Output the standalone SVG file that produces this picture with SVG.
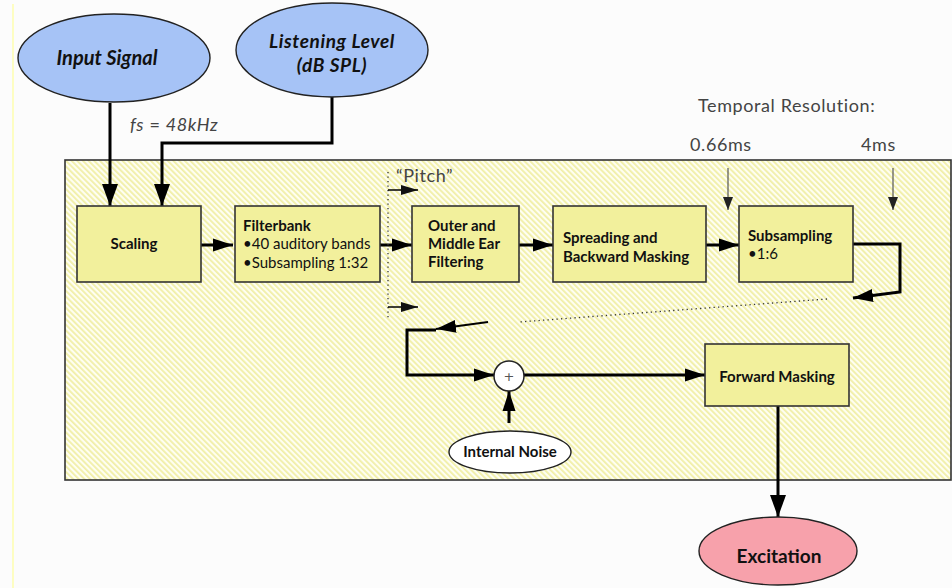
<svg xmlns="http://www.w3.org/2000/svg" width="952" height="588" viewBox="0 0 952 588">
<style>
.box{fill:#f2f09c;stroke:#333;stroke-width:1.6}
.ell{stroke:#222;stroke-width:1.4}
.lbl{font-family:Lato,"Open Sans","DejaVu Sans",sans-serif;font-size:15px;fill:#111}
.b{font-weight:bold}
.n{font-weight:normal}
.note{font-family:Lato,"Open Sans","DejaVu Sans",sans-serif;fill:#444;font-size:18px;letter-spacing:0.6px}
.thick{fill:none;stroke:#000;stroke-width:3}
.med{fill:none;stroke:#000;stroke-width:2}
.thin{fill:none;stroke:#555;stroke-width:1.2}
.dot{fill:none;stroke:#333;stroke-width:1.3;stroke-dasharray:1.3 3.2}
</style>
<defs>
<pattern id="hatch" patternUnits="userSpaceOnUse" width="4" height="4" patternTransform="rotate(-45)">
<rect width="4" height="4" fill="#fefef2"/>
<rect width="1.8" height="4" fill="#f1efa6"/>
</pattern>
<marker id="ah" markerUnits="userSpaceOnUse" markerWidth="22" markerHeight="16" refX="20" refY="8" orient="auto">
<path d="M0,1.5 L20,8 L0,14.5 z" fill="#000"/>
</marker>
<marker id="ahBig" markerUnits="userSpaceOnUse" markerWidth="24" markerHeight="18" refX="22" refY="9" orient="auto">
<path d="M0,1 L22,9 L0,17 z" fill="#000"/>
</marker>
<marker id="ahPitch" markerUnits="userSpaceOnUse" markerWidth="18" markerHeight="12" refX="17" refY="6" orient="auto">
<path d="M0,1 L17,6 L0,11 z" fill="#111"/>
</marker>
<marker id="ahThin" markerUnits="userSpaceOnUse" markerWidth="14" markerHeight="12" refX="13" refY="6" orient="auto">
<path d="M0,1 L13,6 L0,11 z" fill="#222"/>
</marker>
</defs>
<rect width="952" height="588" fill="#fcfcfc"/>
<line x1="13" y1="4" x2="13" y2="588" stroke="#ffff88" stroke-width="1"/>
<rect id="system" x="65" y="160" width="886" height="320" fill="url(#hatch)" stroke="#333" stroke-width="1.6"/>

<g id="connectors">
<path class="thick" d="M110,103 V206" marker-end="url(#ahBig)"/>
<path class="thick" d="M332,97 V143 H162 V206" marker-end="url(#ahBig)"/>
<path class="thick" d="M201,245 H233" marker-end="url(#ah)"/>
<path class="thick" d="M380,245 H412" marker-end="url(#ah)"/>
<path class="thick" d="M519,245 H553" marker-end="url(#ah)"/>
<path class="thick" d="M706,245 H739" marker-end="url(#ah)"/>
<path class="thick" d="M853,244 H900 V292 L853,298" marker-end="url(#ah)"/>
<path class="dot" d="M827,299 L519,322"/>
<path class="med" d="M488,322 L436,329" marker-end="url(#ah)"/>
<path class="thick" d="M436,330 H407 V375 H494" marker-end="url(#ah)"/>
<path class="thick" d="M524,375 H705" marker-end="url(#ah)"/>
<path class="thick" d="M509,423 V391" marker-end="url(#ah)"/>
<path class="thick" d="M778,406 V517" marker-end="url(#ahBig)"/>
<path class="dot" d="M388,172 V320"/>
<path class="med" d="M388,190 H418" marker-end="url(#ahPitch)" style="stroke-width:1.5"/>
<path class="med" d="M388,307 H418" marker-end="url(#ahPitch)" style="stroke-width:1.5"/>
<path class="thin" d="M728,168 V210" marker-end="url(#ahThin)"/>
<path class="thin" d="M893,168 V210" marker-end="url(#ahThin)"/>
</g>

<g id="input-signal">
<ellipse class="ell" cx="114" cy="58" rx="96" ry="44" fill="#a6c3f6"/>
<text class="lbl b" x="107" y="65" text-anchor="middle" style="font-size:20px;font-style:italic">Input Signal</text>
</g>
<g id="listening-level">
<ellipse class="ell" cx="332" cy="50" rx="96" ry="47" fill="#a6c3f6"/>
<text class="lbl b" x="332" y="48" text-anchor="middle" style="font-size:19px;font-style:italic;letter-spacing:0.6px">Listening Level</text>
<text class="lbl b" x="332" y="72" text-anchor="middle" style="font-size:19px;font-style:italic;letter-spacing:0.6px">(dB SPL)</text>
</g>
<text class="note" x="130" y="131" style="font-style:italic">fs<tspan font-style="normal"> = </tspan>48kHz</text>
<text class="note" x="698" y="112">Temporal Resolution:</text>
<text class="note" x="690" y="151">0.66ms</text>
<text class="note" x="861" y="151">4ms</text>
<text class="note" x="396" y="182">“Pitch”</text>

<g id="scaling">
<rect class="box" x="77" y="206" width="124" height="76"/>
<text class="lbl b" x="134" y="249" text-anchor="middle">Scaling</text>
</g>
<g id="filterbank">
<rect class="box" x="235" y="206" width="145" height="76"/>
<text class="lbl b" x="243" y="231">Filterbank</text>
<text class="lbl n" x="243" y="249">•40 auditory bands</text>
<text class="lbl n" x="243" y="268">•Subsampling 1:32</text>
</g>
<g id="outer-middle-ear">
<rect class="box" x="412" y="206" width="107" height="76"/>
<text class="lbl b" x="428" y="231">Outer and</text>
<text class="lbl b" x="428" y="249">Middle Ear</text>
<text class="lbl b" x="428" y="267">Filtering</text>
</g>
<g id="spreading">
<rect class="box" x="553" y="206" width="153" height="76"/>
<text class="lbl b" x="563" y="243">Spreading and</text>
<text class="lbl b" x="563" y="262">Backward Masking</text>
</g>
<g id="subsampling">
<rect class="box" x="739" y="206" width="114" height="76"/>
<text class="lbl b" x="748" y="241">Subsampling</text>
<text class="lbl n" x="748" y="259">•1:6</text>
</g>
<g id="sum">
<circle cx="509" cy="376" r="15" fill="#fff" stroke="#222" stroke-width="1.5"/>
<text x="509" y="381" text-anchor="middle" style="font-family:'DejaVu Sans',sans-serif;font-size:13px;fill:#555">+</text>
</g>
<g id="internal-noise">
<ellipse class="ell" cx="510" cy="452" rx="61" ry="21" fill="#fff"/>
<text class="lbl b" x="510" y="457" text-anchor="middle" style="font-size:15px">Internal Noise</text>
</g>
<g id="forward-masking">
<rect class="box" x="705" y="344" width="144" height="62"/>
<text class="lbl b" x="777" y="382" text-anchor="middle">Forward Masking</text>
</g>
<g id="excitation">
<ellipse class="ell" cx="778" cy="551" rx="79" ry="34" fill="#f7a1ab"/>
<text class="lbl b" x="779" y="563" text-anchor="middle" style="font-size:19px">Excitation</text>
</g>
</svg>
